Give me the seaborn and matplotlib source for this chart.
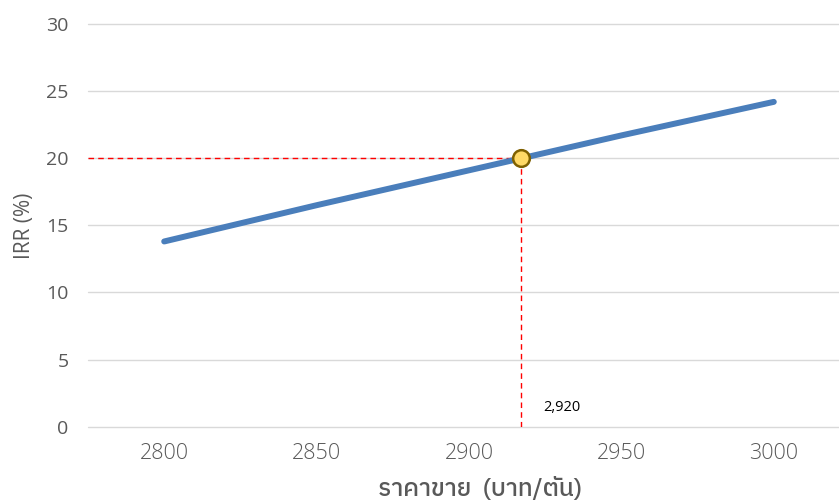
import matplotlib
matplotlib.use("Agg")
import matplotlib.pyplot as plt
import seaborn as sns
import pandas as pd

price = [2800, 2850, 2900, 2950, 3000]
irr = [13.8, 16.5, 19.1, 21.7, 24.2]
x_ticks = [2800, 2850, 2900, 2950, 3000]
y_ticks = [0, 5, 10, 15, 20, 25, 30]
target_x = 2917
target_y = 20
target_label = "2,920"
x_title = "ราคาขาย  (บาท/ตัน)"
y_title = "IRR (%)"

sns.set_theme(style="white")
plt.rcParams["font.family"] = ["Open Sans", "DejaVu Sans"]

fig = plt.figure(figsize=(8.39, 5.03), dpi=100)
ax = fig.add_axes([88/839, 76.3/503, 762/839, 402.7/503])
df = pd.DataFrame({"price": price, "irr": irr})
sns.lineplot(data=df, x="price", y="irr", ax=ax, color="#4A7EBB", linewidth=4.3,
             solid_capstyle="round", zorder=3)
ax.plot([2775, target_x], [target_y, target_y], color="#FF0000", lw=1, ls=(0, (4, 3)), zorder=2)
ax.plot([target_x, target_x], [0, target_y], color="#FF0000", lw=1, ls=(0, (4, 3)), zorder=2)
ax.plot([target_x], [target_y], marker="o", ms=12, mfc="#FFD966", mec="#7F6000", mew=1.8, zorder=4)
ax.text(2924.5, 1.4, target_label, fontsize=10.5, color="black", va="center", ha="left",
        family=["Open Sans"])
ax.set_xlim(2775, 3025)
ax.set_ylim(0, 30)
ax.set_xticks(x_ticks)
ax.set_yticks(y_ticks)
for y in y_ticks:
    ax.axhline(y, color="#D9D9D9", lw=1, zorder=1, clip_on=False)
for s in ax.spines.values():
    s.set_visible(False)
ax.tick_params(axis="x", length=0, pad=12, labelsize=15.5, labelcolor="#595959")
ax.tick_params(axis="y", length=0, pad=14, labelsize=14, labelcolor="#595959")
for lab in ax.get_xticklabels():
    lab.set_fontweight(300)
ax.set_xlabel(x_title, fontsize=17.5, color="#595959", fontweight=500,
              family=["IBM Plex Sans Thai", "Noto Sans Thai UI", "DejaVu Sans"])
ax.xaxis.set_label_coords((480 - 88) / 762, -(489 - 426.7) / 402.7)
ax.xaxis.label.set_va("center")
ax.set_ylabel(y_title, fontsize=15, color="#595959", fontweight=400)
ax.yaxis.set_label_coords(-(88 - 24) / 762, (426.7 - 226) / 402.7)
ax.yaxis.label.set_va("center")
fig.savefig("out.png", dpi=100)
